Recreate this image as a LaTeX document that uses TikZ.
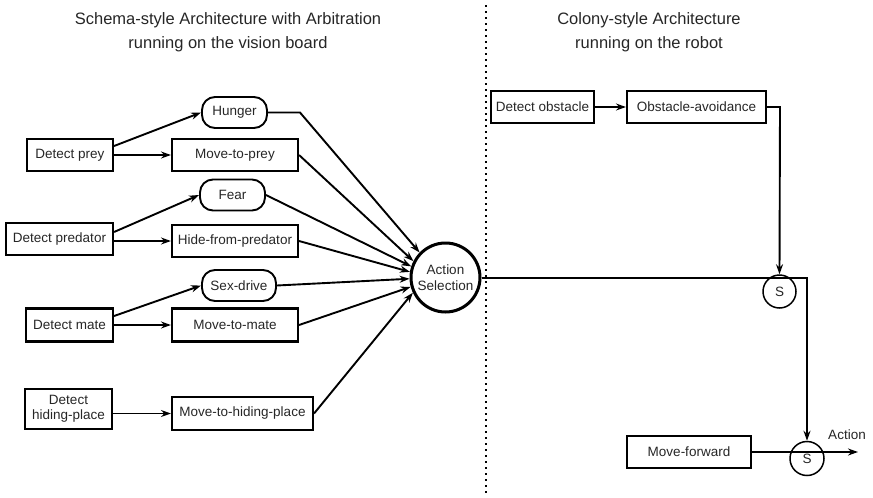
\documentclass[tikz,border=0pt]{standalone}
\usepackage{fontspec}
\setmainfont{Liberation Sans}
\usetikzlibrary{arrows.meta,calc}
\begin{document}
\begin{tikzpicture}[x=1pt,y=-1pt,
 every node/.style={font=\fontsize{13.5}{15.5}\selectfont,text=black!85},
 box/.style={draw,line width=2.1pt,minimum height=32pt,inner sep=1pt,align=center},
 drive/.style={draw,line width=1.9pt,rounded corners=13pt,minimum height=31pt,minimum width=65pt,inner sep=1pt},
 ln/.style={line width=1.9pt},
 arr/.style={ln,-{Stealth[length=10pt,width=7pt]}},
 sw/.style={draw,circle,line width=1.5pt,minimum size=33pt,inner sep=0pt},
 ttl/.style={font=\fontsize{16.5}{24}\selectfont,align=center}]
\useasboundingbox (0,0) rectangle (873,498);

% titles
\node[ttl] (t1) at (228,32) {Schema-style Architecture with Arbitration\\running on the vision board};
\node[ttl] (t2) at (649,32) {Colony-style Architecture\\running on the robot};

% divider
\coordinate (dtop) at (486,5);
\coordinate (dbot) at (486,495);
\draw[line width=1.6pt,dash pattern=on 1.6pt off 4.4pt] (dtop) -- (dbot);

% left side nodes
\node[box,minimum width=86pt] (dprey) at (70,155) {Detect prey};
\node[box,minimum width=126pt] (mprey) at (235,155) {Move-to-prey};
\node[box,minimum width=107pt] (dpred) at (59.5,239) {Detect predator};
\node[box,minimum width=126pt] (hide) at (235,241) {Hide-from-predator};
\node[box,minimum width=87pt,minimum height=33pt] (dmate) at (69.5,325) {Detect mate};
\node[box,minimum width=126pt,minimum height=33pt] (mmate) at (235,325) {Move-to-mate};
\node[box,minimum width=87pt,minimum height=40pt] (dhide) at (68.5,409) {Detect\\hiding-place};
\node[box,minimum width=141pt,minimum height=33pt] (mhide) at (242.5,413.5) {Move-to-hiding-place};
\node[drive] (hunger) at (234.5,112.5) {Hunger};
\node[drive] (fear) at (232.5,195) {Fear};
\node[drive,minimum width=74pt] (sex) at (239,285.5) {Sex-drive};
\node[draw,circle,line width=3pt,minimum size=69pt,inner sep=0pt,align=center] (act) at (445.5,277.5) {Action\\Selection};

% right side nodes
\node[box,minimum width=103pt] (dobs) at (542.5,107) {Detect obstacle};
\node[box,minimum width=139pt] (oavoid) at (696.5,107) {Obstacle-avoidance};
\node[sw] (s1) at (779.5,291.5) {S};
\node[box,minimum width=124pt] (mfwd) at (689,452) {Move-forward};
\node[sw,minimum size=34pt] (s2) at (807,458.5) {S};
\node (actlbl) at (847,435) {Action};
\coordinate (hbend) at (300,112.5);
\coordinate (corner) at (807,278);
\coordinate (obend) at (780,107);
\coordinate (out) at (858,452);

% left connectors
\draw[arr] (dprey.east) -- (mprey.west);
\draw[arr] ([yshift=9pt]dprey.east) -- (hunger.west);
\draw[arr] (dpred.east |- hide.west) -- (hide.west);
\draw[arr] ([yshift=7pt]dpred.east) -- (fear.west);
\draw[arr] (dmate.east |- mmate.west) -- (mmate.west);
\draw[arr] ([yshift=9pt]dmate.east) -- (sex.west);
\draw[arr] (dhide.east |- mhide.west) -- (mhide.west);

% into action selection
\draw[arr] (hunger.east) -- (hbend) -- (act.136);
\draw[arr] (mprey.east) -- (act.153);
\draw[arr] (fear.east) -- (act.162);
\draw[arr] (hide.east) -- (act.171);
\draw[arr] (sex.east) -- (act.182);
\draw[arr] (mmate.east) -- (act.195);
\draw[arr] (mhide.east) -- (act.205);

% right connectors
\draw[arr] (dobs.east) -- (oavoid.west);
\draw[arr] (oavoid.east) -- (obend) -- (s1.north);
\draw[arr] (act.east |- corner) -- (corner) -- (s2.north);
\draw[arr] (mfwd.east) -- (out);
\end{tikzpicture}
\end{document}
